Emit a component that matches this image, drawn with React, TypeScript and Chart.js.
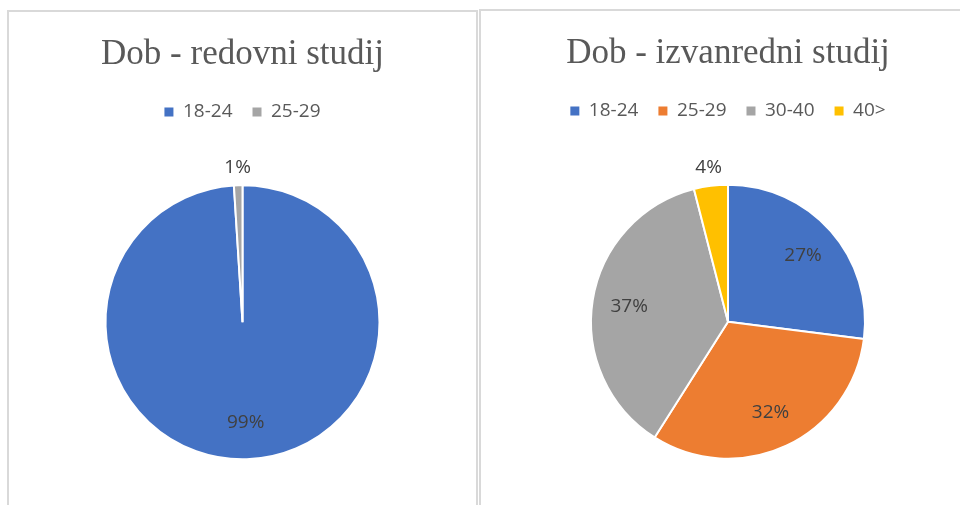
import React, { useEffect, useRef } from "react";
import { Chart, registerables } from "chart.js";

Chart.register(...registerables);

const BLUE = "#4472C4";
const ORANGE = "#ED7D31";
const GRAY = "#A5A5A5";
const YELLOW = "#FFC000";

const leftTitle = "Dob - redovni studij";
const leftLabels = ["18-24", "25-29"];
const leftValues = [99, 1];
const leftColors = [BLUE, GRAY];

const rightTitle = "Dob - izvanredni studij";
const rightLabels = ["18-24", "25-29", "30-40", "40>"];
const rightValues = [27, 32, 37, 4];
const rightColors = [BLUE, ORANGE, GRAY, YELLOW];

const labelPlugin = {
  id: "pctLabels",
  afterDatasetsDraw(chart: any) {
    const ctx = chart.ctx;
    const meta = chart.getDatasetMeta(0);
    const data = chart.data.datasets[0].data as number[];
    const total = data.reduce((a, b) => a + b, 0);
    ctx.save();
    ctx.font = "19px 'Open Sans'";
    ctx.fillStyle = "#404040";
    ctx.textAlign = "center";
    ctx.textBaseline = "middle";
    meta.data.forEach((arc: any, i: number) => {
      const p = arc.getProps(["x", "y", "startAngle", "endAngle", "outerRadius"], true);
      const mid = (p.startAngle + p.endAngle) / 2;
      const share = data[i] / total;
      const r = share < 0.05 ? p.outerRadius + 18 : p.outerRadius * 0.73;
      const x = p.x + Math.cos(mid) * r;
      const y = p.y + Math.sin(mid) * r;
      ctx.fillText(data[i] + "%", x, y);
    });
    ctx.restore();
  },
};

function PieChart(props: {
  title: string;
  labels: string[];
  values: number[];
  colors: string[];
  width: number;
  height: number;
}) {
  const ref = useRef<HTMLCanvasElement | null>(null);
  useEffect(() => {
    if (!ref.current) return;
    const defaultGen = (Chart as any).overrides.pie.plugins.legend.labels.generateLabels;
    const chart = new Chart(ref.current, {
      type: "pie",
      data: {
        labels: props.labels,
        datasets: [
          {
            data: props.values,
            backgroundColor: props.colors,
            borderColor: "#ffffff",
            borderWidth: 2,
            radius: 137,
          } as any,
        ],
      },
      options: {
        animation: false,
        responsive: false,
        maintainAspectRatio: false,
        devicePixelRatio: 1,
        layout: { padding: 0 },
        plugins: {
          title: {
            display: true,
            text: props.title,
            color: "#595959",
            font: { family: "'Liberation Serif'", size: 35, weight: "normal", lineHeight: 1.2 },
            padding: { top: 22, bottom: 6.5 },
          },
          legend: {
            display: true,
            position: "top",
            labels: {
              color: "#595959",
              font: { family: "'Open Sans'", size: 19 },
              boxWidth: 9,
              boxHeight: 9,
              padding: 20,
              generateLabels: (c: any) =>
                defaultGen(c).map((it: any) => ({ ...it, lineWidth: 0, strokeStyle: it.fillStyle })),
            },
          },
          tooltip: { enabled: false },
        },
      },
      plugins: [labelPlugin],
    });
    return () => chart.destroy();
  }, []);
  return <canvas ref={ref} width={props.width} height={props.height} style={{ display: "block" }} />;
}

export default function App() {
  return (
    <div
      style={{
        position: "absolute",
        left: 0,
        top: 0,
        width: 960,
        height: 505,
        overflow: "hidden",
        background: "#ffffff",
      }}
    >
      <div
        style={{
          position: "absolute",
          left: 7,
          top: 10,
          width: 467,
          height: 520,
          border: "2px solid #d9d9d9",
          background: "#fff",
        }}
      >
        <PieChart title={leftTitle} labels={leftLabels} values={leftValues} colors={leftColors} width={467} height={501} />
      </div>
      <div
        style={{
          position: "absolute",
          left: 479,
          top: 9,
          width: 494,
          height: 520,
          border: "2px solid #d9d9d9",
          background: "#fff",
        }}
      >
        <PieChart title={rightTitle} labels={rightLabels} values={rightValues} colors={rightColors} width={494} height={502} />
      </div>
    </div>
  );
}
